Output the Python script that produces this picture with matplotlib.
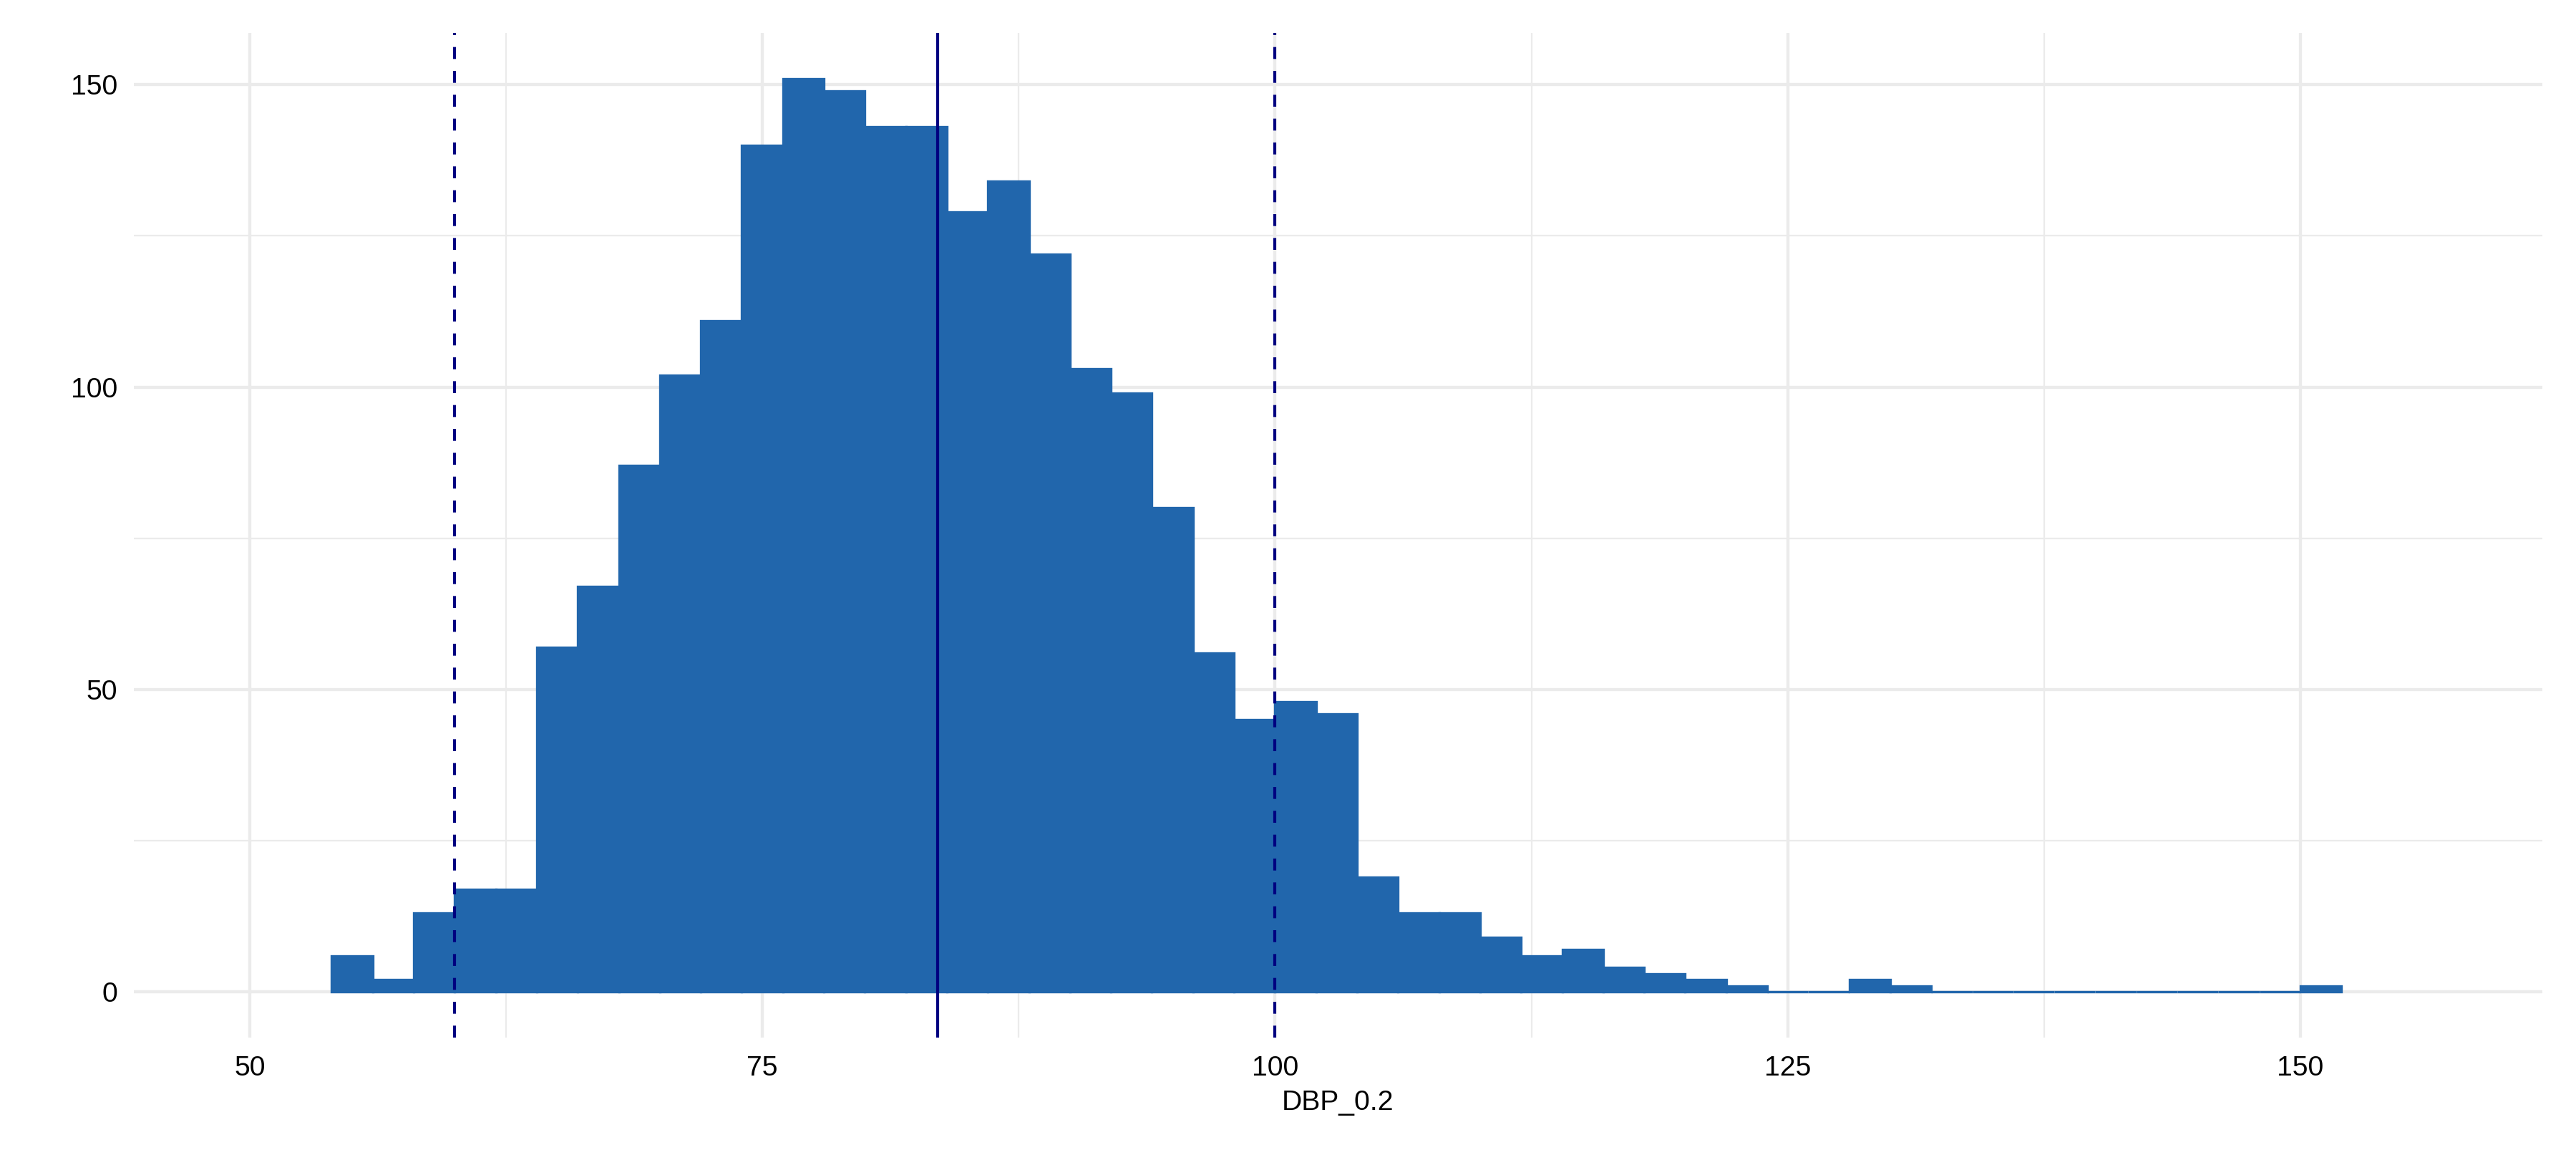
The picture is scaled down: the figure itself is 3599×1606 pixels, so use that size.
import matplotlib
matplotlib.use("Agg")
import matplotlib.pyplot as plt
from matplotlib.ticker import MultipleLocator

plt.rcParams["font.family"] = ["Liberation Sans", "DejaVu Sans"]

# Histogram of DBP_0.2, bins of width 2 starting at 54
bin_width = 2
bin_left = list(range(54, 152, bin_width))
counts = [6, 2, 13, 17, 17, 57, 67, 87, 102, 111, 140, 151, 149, 143, 143,
          129, 134, 122, 103, 99, 80, 56, 45, 48, 46, 19, 13, 13, 9, 6, 7,
          4, 3, 2, 1, 0, 0, 2, 1, 0, 0, 0, 0, 0, 0, 0, 0, 0, 1]

mean_value = 83.53
limits = [60, 100]
x_ticks = [50, 75, 100, 125, 150]
y_ticks = [0, 50, 100, 150]

bar_color = "#2166AC"
line_color = "#000080"
grid_color = "#EBEBEB"

fig = plt.figure(figsize=(3599 / 300, 1606 / 300), dpi=300)
ax = fig.add_axes([187 / 3599, 1 - 1449 / 1606, (3552 - 187) / 3599, (1449 - 46) / 1606])

ax.bar(bin_left, counts, width=bin_width, align="edge",
       color=bar_color, edgecolor=bar_color, linewidth=0.8, zorder=2)

ax.axvline(mean_value, color=line_color, linewidth=1.0, zorder=3)
for v in limits:
    ax.axvline(v, color=line_color, linewidth=1.0, linestyle=(0, (4, 4)), zorder=3)

ax.set_xlim(44.35, 161.8)
ax.set_ylim(-7.55, 158.55)
ax.set_xticks(x_ticks)
ax.set_yticks(y_ticks)
ax.xaxis.set_minor_locator(MultipleLocator(12.5))
ax.yaxis.set_minor_locator(MultipleLocator(25))

ax.grid(which="major", color=grid_color, linewidth=1.05, zorder=0)
ax.grid(which="minor", color=grid_color, linewidth=0.55, zorder=0)
ax.set_axisbelow(True)

for s in ax.spines.values():
    s.set_visible(False)
ax.tick_params(which="both", length=0, labelsize=9.4, colors="black")
ax.tick_params(axis="x", pad=6)
ax.tick_params(axis="y", pad=5.5)

ax.set_xlabel("DBP_0.2", fontsize=9.4, labelpad=3)
ax.set_ylabel("")

fig.savefig("out.png", dpi=300, facecolor="white")
